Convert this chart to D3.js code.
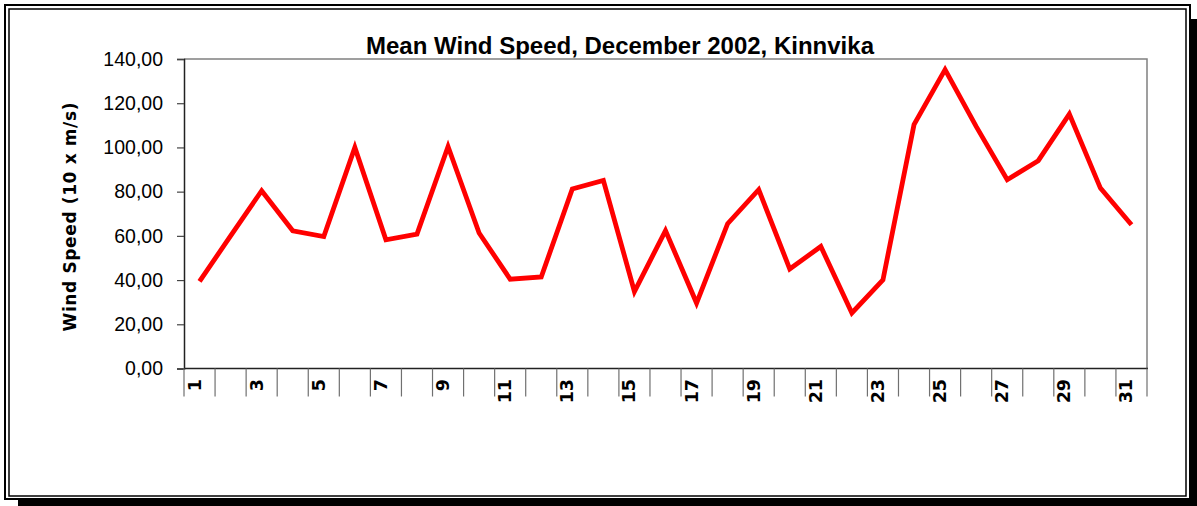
<!DOCTYPE html>
<html>
<head>
<meta charset="utf-8">
<script src="https://cdn.jsdelivr.net/npm/d3@7"></script>
<style>
  body { margin: 0; background: #fff; }
  svg { display: block; }
</style>
</head>
<body>
<div id="chart"></div>
<script>
// Mean wind speed per day, December 2002
const days = [1, 2, 3, 4, 5, 6, 7, 8, 9, 10, 11, 12, 13, 14, 15, 16,
              17, 18, 19, 20, 21, 22, 23, 24, 25, 26, 27, 28, 29, 30, 31];
const windSpeed = [39.4, 60, 80.4, 62.3, 59.7, 100, 58.2, 60.8, 100.4, 61.3, 40.4, 41.4, 81.2, 85.1, 34.8, 62.4,
                   29.6, 65.5, 80.9, 45, 55.2, 25.1, 40.1, 110.3, 135.2, 109.5, 85.4, 94, 115.1, 81.6, 65];
const yTicks = [0, 20, 40, 60, 80, 100, 120, 140];
const xLabels = [1, 3, 5, 7, 9, 11, 13, 15, 17, 19, 21, 23, 25, 27, 29, 31];

const width = 1197, height = 506;
const plot = { left: 184, right: 1147, top: 59, bottom: 368.5 };

const svg = d3.select("#chart").append("svg").attr("width", width).attr("height", height);

// frame with drop shadow
svg.append("rect").attr("x", 18).attr("y", 19).attr("width", 1179).attr("height", 487).attr("fill", "#000");
svg.append("rect").attr("x", 5).attr("y", 5).attr("width", 1185).attr("height", 494)
  .attr("fill", "#fff").attr("stroke", "#000").attr("stroke-width", 2);
svg.append("rect").attr("x", 9).attr("y", 9).attr("width", 1177).attr("height", 487)
  .attr("fill", "none").attr("stroke", "#000").attr("stroke-width", 1.5);

const x = d3.scaleBand().domain(days).range([plot.left, plot.right]);
const y = d3.scaleLinear().domain([0, 140]).range([plot.bottom, plot.top]);

// plot area border (top + right in grey)
svg.append("path")
  .attr("d", `M${plot.left},${plot.top}H${plot.right}V${plot.bottom}`)
  .attr("fill", "none").attr("stroke", "#808080").attr("stroke-width", 1.5);

// y axis
const fmt = d => d3.format(".2f")(d).replace(".", ",");
const yAxis = svg.append("g")
  .attr("transform", `translate(${plot.left},0)`)
  .call(d3.axisLeft(y).tickValues(yTicks).tickSize(7).tickPadding(14).tickFormat(fmt));
yAxis.select(".domain").attr("stroke", "#222").attr("stroke-width", 1.5);
yAxis.selectAll(".tick line").attr("stroke", "#444").attr("stroke-width", 1.2);
yAxis.selectAll("text")
  .attr("font-family", "'Liberation Sans', Arial, sans-serif")
  .attr("font-size", 19.5).attr("fill", "#000");

// x axis: ticks at category boundaries, odd day labels rotated
const xg = svg.append("g");
xg.append("line")
  .attr("x1", plot.left).attr("x2", plot.right + 1)
  .attr("y1", plot.bottom).attr("y2", plot.bottom)
  .attr("stroke", "#222").attr("stroke-width", 1.5);
xg.selectAll("line.tk")
  .data(days.concat(["end"]))
  .join("line").attr("class", "tk")
  .attr("x1", d => d === "end" ? plot.right : x(d))
  .attr("x2", d => d === "end" ? plot.right : x(d))
  .attr("y1", plot.bottom).attr("y2", 396.5)
  .attr("stroke", "#707070").attr("stroke-width", 1.2);
xg.selectAll("text")
  .data(xLabels)
  .join("text")
  .attr("transform", d => `translate(${x(d) + 16.5},379) rotate(-90)`)
  .attr("text-anchor", "end")
  .attr("font-family", "'DejaVu Sans', Verdana, sans-serif")
  .attr("font-weight", "bold")
  .attr("font-size", 17.5)
  .text(d => d);

// line
const line = d3.line()
  .x((d, i) => x(days[i]) + x.bandwidth() / 2)
  .y(d => y(d));
svg.append("path")
  .datum(windSpeed)
  .attr("d", line)
  .attr("fill", "none")
  .attr("stroke", "#ff0000")
  .attr("stroke-width", 4.8)
  .attr("stroke-linejoin", "miter");

// titles
svg.append("text")
  .attr("x", 620).attr("y", 54)
  .attr("text-anchor", "middle")
  .attr("font-family", "'Liberation Sans', Arial, sans-serif")
  .attr("font-weight", "bold").attr("font-size", 24)
  .text("Mean Wind Speed, December 2002, Kinnvika");

svg.append("text")
  .attr("transform", "translate(75.5,217) rotate(-90)")
  .attr("text-anchor", "middle")
  .attr("font-family", "'DejaVu Sans', Verdana, sans-serif")
  .attr("font-weight", "bold").attr("font-size", 17)
  .attr("textLength", 229).attr("lengthAdjust", "spacing")
  .text("Wind Speed (10 x m/s)");
</script>
</body>
</html>
